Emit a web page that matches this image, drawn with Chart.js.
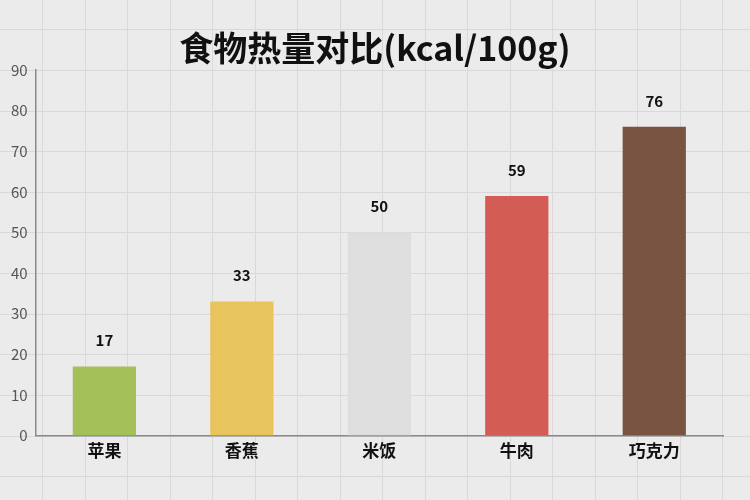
<!DOCTYPE html>
<html>
<head>
<meta charset="utf-8">
<script src="https://cdn.jsdelivr.net/npm/chart.js@4"></script>
<style>
  html, body { margin: 0; padding: 0; background: #ebebeb; }
  #wrap { width: 750px; height: 500px; }
</style>
</head>
<body>
<div id="wrap"><canvas id="c"></canvas></div>
<script>
// 数据
const foods = ['苹果', '香蕉', '米饭', '牛肉', '巧克力'];
const kcal = [17, 33, 50, 59, 76];
const barColors = ['#a3c158', '#e8c55c', '#dedede', '#d35d54', '#7a5442'];
const yTicks = [0, 10, 20, 30, 40, 50, 60, 70, 80, 90];
const titleText = '食物热量对比(kcal/100g)';

const FONT = '"Noto Sans CJK SC", "Noto Sans", sans-serif';

// 方格纸背景 + 居中标题
const paperBg = {
    id: 'paperBg',
    beforeDraw(chart) {
        const ctx = chart.ctx;
        const y = chart.scales.y;
        ctx.save();
        ctx.fillStyle = '#ebebeb';
        ctx.fillRect(0, 0, chart.width, chart.height);
        ctx.strokeStyle = '#d9d9d9';
        ctx.lineWidth = 1;
        for (let v = -20; v <= 110; v += 10) {
            const py = Math.round(y.getPixelForValue(v)) + 0.5;
            ctx.beginPath();
            ctx.moveTo(0, py);
            ctx.lineTo(chart.width, py);
            ctx.stroke();
        }
        for (let px = 42; px < chart.width; px += 42.5) {
            const x = Math.round(px) + 0.5;
            ctx.beginPath();
            ctx.moveTo(x, 0);
            ctx.lineTo(x, chart.height);
            ctx.stroke();
        }
        ctx.font = 'bold 34px ' + FONT;
        ctx.fillStyle = '#111';
        ctx.textAlign = 'center';
        ctx.textBaseline = 'middle';
        ctx.fillText(titleText, chart.width / 2, 48);
        ctx.restore();
    }
};

// 柱顶数值
const valueLabels = {
    id: 'valueLabels',
    afterDatasetsDraw(chart) {
        const ctx = chart.ctx;
        const meta = chart.getDatasetMeta(0);
        ctx.save();
        ctx.font = 'bold 15px ' + FONT;
        ctx.fillStyle = '#111';
        ctx.textAlign = 'center';
        ctx.textBaseline = 'middle';
        meta.data.forEach((bar, i) => {
            ctx.fillText(String(kcal[i]), bar.x, bar.y - 26);
        });
        ctx.restore();
    }
};

new Chart(document.getElementById('c').getContext('2d'), {
    type: 'bar',
    data: {
        labels: foods,
        datasets: [{
            data: kcal,
            backgroundColor: barColors,
            borderWidth: 0,
            barPercentage: 0.46,
            categoryPercentage: 1
        }]
    },
    options: {
        responsive: true,
        maintainAspectRatio: false,
        animation: false,
        layout: { padding: { top: 70, left: 3, right: 27, bottom: 34 } },
        plugins: {
            legend: { display: false },
            tooltip: { enabled: false },
            title: { display: false }
        },
        scales: {
            x: {
                grid: { display: false, drawTicks: false },
                border: { display: true, color: '#8a8a8a', width: 1.5 },
                ticks: {
                    color: '#111',
                    font: { family: FONT, size: 17, weight: 'bold' },
                    padding: 5
                }
            },
            y: {
                min: 0,
                max: 90,
                afterBuildTicks(scale) {
                    scale.ticks = yTicks.map(v => ({ value: v }));
                },
                grid: { display: false, drawTicks: false },
                border: { display: true, color: '#8a8a8a', width: 1.5 },
                ticks: {
                    color: '#555',
                    font: { family: FONT, size: 15 },
                    padding: 8
                }
            }
        }
    },
    plugins: [paperBg, valueLabels]
});
</script>
</body>
</html>
